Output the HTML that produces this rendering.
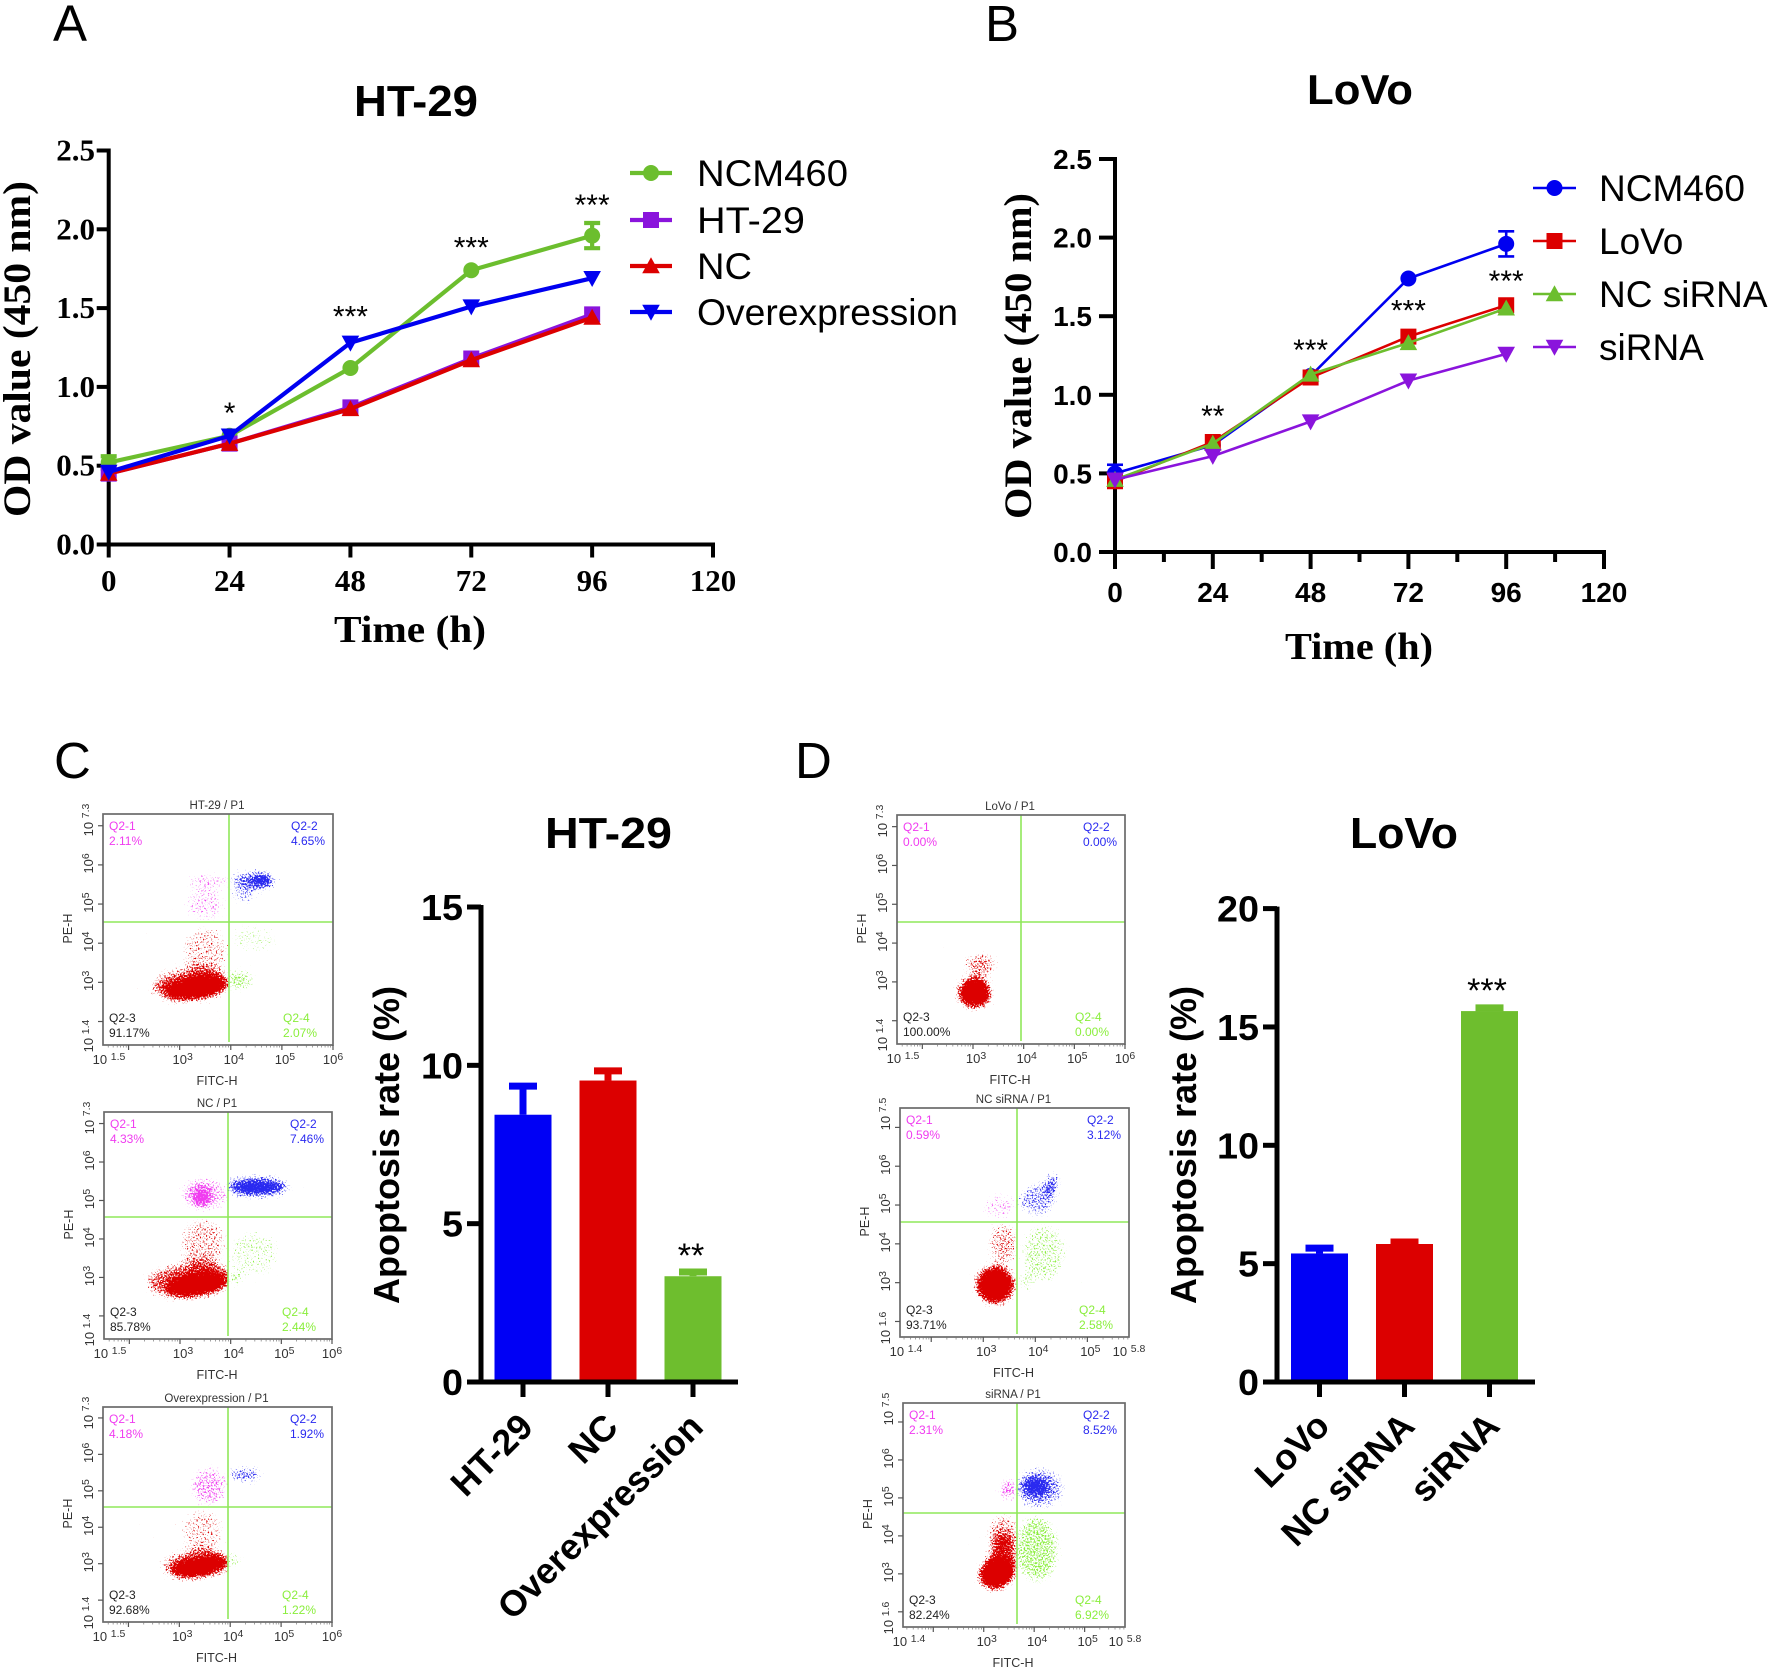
<!DOCTYPE html>
<html lang="en">
<head>
<meta charset="utf-8">
<title>Cell proliferation and apoptosis panels</title>
<style>
html,body{margin:0;padding:0;background:#fff;}
svg{display:block;}
text{font-family:"Liberation Sans",sans-serif;}
</style>
</head>
<body>
<svg id="figure" xmlns="http://www.w3.org/2000/svg" width="1772" height="1669" viewBox="0 0 1772 1669">
<defs id="defs"></defs>
<rect x="0" y="0" width="1772" height="1669" fill="#fff"/>
</svg>
<script>
/* ---------- Panel A data ---------- */
const aHours = [0, 24, 48, 72, 96];
const aNCM460 = [0.52, 0.69, 1.12, 1.74, 1.96];
const aNCM460Err = [0.04, 0.01, 0.01, 0.01, 0.08];
const aHT29 = [0.45, 0.64, 0.87, 1.18, 1.46];
const aNC = [0.45, 0.64, 0.86, 1.17, 1.44];
const aOverexpression = [0.46, 0.69, 1.28, 1.51, 1.69];
const aSigHours = [24, 48, 72, 96];
const aSigLabels = ['*', '***', '***', '***'];
const aSigValues = [0.88, 1.49, 1.93, 2.20];
/* ---------- Panel B data ---------- */
const bHours = [0, 24, 48, 72, 96];
const bNCM460 = [0.50, 0.68, 1.12, 1.74, 1.96];
const bNCM460Err = [0.055, 0.01, 0.01, 0.01, 0.08];
const bLoVo = [0.45, 0.70, 1.11, 1.37, 1.57];
const bNCsiRNA = [0.46, 0.69, 1.13, 1.33, 1.55];
const bsiRNA = [0.46, 0.61, 0.83, 1.09, 1.26];
const bSigHours = [24, 48, 72, 96];
const bSigLabels = ['**', '***', '***', '***'];
const bSigValues = [0.91, 1.33, 1.58, 1.77];
/* ---------- shared line chart ticks ---------- */
const lineXTicks = [0, 24, 48, 72, 96, 120];
const lineYTicks = [0, 0.5, 1, 1.5, 2, 2.5];
const lineYLabels = ['0.0', '0.5', '1.0', '1.5', '2.0', '2.5'];
/* ---------- Bar data ---------- */
const cCategories = ['HT-29', 'NC', 'Overexpression'];
const cValues = [8.44, 9.52, 3.34];
const cErrors = [1.0, 0.4, 0.23];
const cYTicks = [0, 5, 10, 15];
const dCategories = ['LoVo', 'NC siRNA', 'siRNA'];
const dValues = [5.43, 5.83, 15.67];
const dErrors = [0.35, 0.21, 0.26];
const dYTicks = [0, 5, 10, 15, 20];
/* ---------- Flow cytometry: quadrant percentages [Q2-1, Q2-2, Q2-3, Q2-4] ---------- */
const flowC1Pct = ['2.11%', '4.65%', '91.17%', '2.07%'];
const flowC2Pct = ['4.33%', '7.46%', '85.78%', '2.44%'];
const flowC3Pct = ['4.18%', '1.92%', '92.68%', '1.22%'];
const flowD1Pct = ['0.00%', '0.00%', '100.00%', '0.00%'];
const flowD2Pct = ['0.59%', '3.12%', '93.71%', '2.58%'];
const flowD3Pct = ['2.31%', '8.52%', '82.24%', '6.92%'];
/* Flow populations: [population, log10 FITC, log10 PE, spread x, spread y, tilt, density] */
const flowC1Clouds = [
 ['red',3.33,2.85,.62,.24,-8,.95],['red',3.2,2.95,.8,.42,-5,.48],['red',3.5,3.8,.46,.62,0,.31],
 ['magenta',3.55,5.6,.5,.15,0,.4],['magenta',3.5,5.0,.42,.42,0,.3],
 ['blue',4.43,5.6,.46,.22,0,.5],['blue',4.63,5.62,.2,.14,0,.72],['blue',4.25,5.2,.3,.22,0,.3],
 ['green',4.17,3.06,.3,.27,0,.42],['green',4.45,4.1,.5,.35,0,.26]];
const flowC2Clouds = [
 ['red',3.33,2.81,.59,.26,-10,.95],['red',3.2,2.94,.9,.47,-5,.48],['red',3.45,3.89,.46,.65,0,.32],
 ['magenta',3.43,5.1,.17,.26,0,.62],['magenta',3.5,5.18,.52,.45,0,.34],
 ['blue',4.52,5.35,.55,.17,0,.72],['blue',4.52,5.35,.7,.3,0,.34],
 ['green',4.45,3.63,.52,.6,0,.28],['green',4.09,2.98,.14,.2,0,.46]];
const flowC3Clouds = [
 ['red',3.4,2.91,.56,.23,-10,.95],['red',3.34,3.0,.72,.4,-5,.44],['red',3.45,3.92,.42,.6,0,.3],
 ['magenta',3.58,5.12,.38,.55,0,.38],
 ['blue',4.29,5.44,.36,.18,0,.52],
 ['green',4.06,3.1,.16,.24,0,.42]];
const flowD1Clouds = [
 ['red',3.03,2.72,.28,.35,0,.95],['red',3.03,2.72,.36,.42,0,.42],['red',3.15,3.45,.33,.3,0,.4]];
const flowD2Clouds = [
 ['red',3.23,2.94,.29,.43,0,.95],['red',3.23,2.94,.42,.5,0,.5],['red',3.39,4.01,.3,.55,0,.36],
 ['magenta',3.32,4.96,.33,.35,0,.3],
 ['blue',4.03,5.13,.38,.42,0,.38],['blue',4.32,5.56,.13,.3,0,.56],
 ['green',4.16,3.75,.45,.75,0,.33],['green',3.8,3.0,.15,.2,0,.4]];
const flowD3Clouds = [
 ['red',3.26,3.02,.36,.4,-30,.95],['red',3.39,3.46,.3,.6,0,.48],['red',3.39,4.08,.32,.5,0,.36],
 ['magenta',3.49,5.22,.2,.3,0,.46],
 ['blue',4.1,5.25,.5,.55,0,.4],['blue',4.03,5.3,.22,.17,0,.8],
 ['green',4.05,3.65,.45,.9,0,.41]];
/* Flow axis ticks: major decades and printed exponents */
const flowXExpA = ['1.5', '3', '4', '5', '6'];
const flowYExpA = ['1.4', '3', '4', '5', '6', '7.3'];
const flowXExpB = ['1.4', '3', '4', '5', '5.8'];
const flowYExpB = ['1.6', '3', '4', '5', '6', '7.5'];

/* ---------- helpers ---------- */
const NS = 'http://www.w3.org/2000/svg';
const root = document.getElementById('figure');
const defs = document.getElementById('defs');
function mk(tag, attrs, parent, name, interact) {
  const el = document.createElementNS(NS, tag);
  for (const k in attrs) el.setAttribute(k, attrs[k]);
  
  
  (parent || root).appendChild(el);
  return el;
}
function group(parent, name) { return mk('g', {}, parent, name, false); }
function line(p, x1, y1, x2, y2, stroke, w, name) {
  return mk('line', {x1, y1, x2, y2, stroke, 'stroke-width': w}, p, name, false);
}
function txt(p, name, s, x, y, o) {
  o = o || {};
  const a = {x, y, 'font-size': o.size || 12, fill: o.fill || '#000', 'text-anchor': o.anchor || 'start'};
  if (o.weight) a['font-weight'] = o.weight;
  if (o.family) a['style'] = 'font-family:' + o.family;
  if (o.len) { a.textLength = o.len; a.lengthAdjust = 'spacingAndGlyphs'; }
  if (o.rot) a.transform = 'rotate(' + o.rot + ' ' + x + ' ' + y + ')';
  const t = mk('text', a, p, name, false);
  t.textContent = s;
  return t;
}
const SERIF = '"Liberation Serif",serif';
function marker(p, kind, x, y, r, color, name) {
  if (kind === 'circle') return mk('circle', {cx: x, cy: y, r: r, fill: color}, p, name, false);
  let pts;
  if (kind === 'square') pts = [[x-r,y-r],[x+r,y-r],[x+r,y+r],[x-r,y+r]];
  if (kind === 'up') pts = [[x,y-r*1.1],[x+r*1.1,y+r*.9],[x-r*1.1,y+r*.9]];
  if (kind === 'down') pts = [[x,y+r*1.1],[x+r*1.1,y-r*.9],[x-r*1.1,y-r*.9]];
  return mk('polygon', {points: pts.map(q => q.join(',')).join(' '), fill: color}, p, name, false);
}

/* ---------- line chart ---------- */
function lineChart(c) {
  const g = group(root, c.id + '-chart');
  const sx = v => c.x0 + (v / 120) * (c.x1 - c.x0);
  const sy = v => c.y0 + (v / 2.5) * (c.y1 - c.y0);
  const axes = group(g, c.id + '-axes');
  line(axes, sx(0), c.y0 + 2, sx(0), c.y1 - 2, '#000', 4, 'y-axis-line');
  line(axes, sx(0) - 2, c.y0, sx(120) + 2, c.y0, '#000', 4, 'x-axis-line');
  lineYTicks.forEach((v, i) => {
    line(axes, c.x0 - c.tickY, sy(v), c.x0, sy(v), '#000', 4, 'y-tick');
    txt(axes, 'y-tick-label', lineYLabels[i], c.yLabelX, sy(v) + c.yLabelDy, {size: c.tickSize, weight: 700, family: c.tickFamily, anchor: 'end'});
  });
  lineXTicks.forEach(v => {
    line(axes, sx(v), c.y0, sx(v), c.y0 + c.tickX, '#000', 4, 'x-tick');
    txt(axes, 'x-tick-label', String(v), sx(v), c.xLabelY, {size: c.tickSize, weight: 700, family: c.tickFamily, anchor: 'middle'});
  });
  if (c.minor) lineXTicks.slice(0, -1).forEach(v => {
    line(axes, sx(v + 12), c.y0, sx(v + 12), c.y0 + 10, '#000', 4, 'x-minor-tick');
  });
  c.series.forEach(s => {
    const sg = group(g, 'series-' + s.name.toLowerCase().replace(/\s+/g, '-'));
    const pts = c.hours.map((h, i) => sx(h) + ',' + sy(s.values[i])).join(' ');
    mk('polyline', {points: pts, fill: 'none', stroke: s.color, 'stroke-width': c.lw, 'stroke-linejoin': 'round'}, sg, 'series-line', false);
    c.hours.forEach((h, i) => {
      if (s.err && s.err[i] > 0.02) {
        const t = sy(s.values[i] + s.err[i]), b = sy(s.values[i] - s.err[i]);
        line(sg, sx(h), t, sx(h), b, s.color, c.lw, 'error-bar');
        line(sg, sx(h) - 8, t, sx(h) + 8, t, s.color, c.lw, 'error-cap');
        line(sg, sx(h) - 8, b, sx(h) + 8, b, s.color, c.lw, 'error-cap');
      }
      marker(sg, s.kind, sx(h), sy(s.values[i]), c.mr, s.color, 'data-point');
    });
  });
  c.sigHours.forEach((h, i) => {
    txt(g, 'significance-label', c.sigLabels[i], sx(h), sy(c.sigValues[i]) + 17, {size: 30, anchor: 'middle'});
  });
  txt(g, 'chart-title', c.title, c.titleX, c.titleY, {size: c.titleSize, weight: 700, len: c.titleLen});
  txt(g, 'x-axis-title', 'Time (h)', c.xtX, c.xtY, {size: 38, weight: 700, family: SERIF, len: c.xtLen});
  txt(g, 'y-axis-title', 'OD value (450 nm)', c.ytX, c.ytY, {size: 39, weight: 700, family: SERIF, rot: -90, len: c.ytLen});
  const leg = group(g, c.id + '-legend');
  c.series.forEach((s, i) => {
    const e = group(leg, 'legend-entry');
    const y = c.legY[i];
    line(e, c.legX0, y, c.legX1, y, s.color, c.lw, 'legend-line');
    marker(e, s.kind, (c.legX0 + c.legX1) / 2, y, c.mr, s.color, 'legend-marker');
    txt(e, 'legend-label', s.name, c.legTX, y + 13, {size: 37, len: c.legLen ? c.legLen[i] : 0});
  });
}

lineChart({
  id: 'panel-a', hours: aHours, x0: 108.7, x1: 713, y0: 544.5, y1: 150.5, tickY: 12, tickX: 13, minor: false, lw: 4.2, mr: 8,
  yLabelX: 95, yLabelDy: 10, xLabelY: 591, tickSize: 31, tickFamily: SERIF,
  sigHours: aSigHours, sigLabels: aSigLabels, sigValues: aSigValues,
  title: 'HT-29', titleX: 354, titleY: 116, titleSize: 44, titleLen: 124,
  xtX: 334, xtY: 642, xtLen: 152, ytX: 30, ytY: 517, ytLen: 336,
  legX0: 630, legX1: 672, legTX: 697, legY: [173, 220, 266, 312], legLen: [151, 108, 55, 261],
  series: [
    {name: 'NCM460', kind: 'circle', color: '#6cbe2e', values: aNCM460, err: aNCM460Err},
    {name: 'HT-29', kind: 'square', color: '#8a14dc', values: aHT29},
    {name: 'NC', kind: 'up', color: '#dc0000', values: aNC},
    {name: 'Overexpression', kind: 'down', color: '#0000f0', values: aOverexpression}
  ]
});
lineChart({
  id: 'panel-b', hours: bHours, x0: 1115, x1: 1604, y0: 552, y1: 159, tickY: 16, tickX: 17, minor: true, lw: 2.6, mr: 8,
  yLabelX: 1092, yLabelDy: 10, xLabelY: 602, tickSize: 28, tickFamily: '"Liberation Sans",sans-serif',
  sigHours: bSigHours, sigLabels: bSigLabels, sigValues: bSigValues,
  title: 'LoVo', titleX: 1307, titleY: 104, titleSize: 42, titleLen: 106,
  xtX: 1285, xtY: 659, xtLen: 148, ytX: 1031, ytY: 519, ytLen: 326,
  legX0: 1533, legX1: 1576, legTX: 1599, legY: [188, 241, 294, 347],
  series: [
    {name: 'NCM460', kind: 'circle', color: '#0000f0', values: bNCM460, err: bNCM460Err},
    {name: 'LoVo', kind: 'square', color: '#dc0000', values: bLoVo},
    {name: 'NC siRNA', kind: 'up', color: '#6cbe2e', values: bNCsiRNA},
    {name: 'siRNA', kind: 'down', color: '#8a14dc', values: bsiRNA}
  ]
});

/* ---------- bar chart ---------- */
function barChart(c) {
  const g = group(root, c.id + '-chart');
  const sy = v => c.y0 + (v / c.max) * (c.y1 - c.y0);
  c.values.forEach((v, i) => {
    const cx = c.cx0 + i * c.step;
    const b = group(g, 'bar-' + c.categories[i].toLowerCase().replace(/\s+/g, '-'));
    line(b, cx, sy(v), cx, sy(v + c.errors[i]) + 3, c.colors[i], 7, 'error-bar');
    line(b, cx - 14, sy(v + c.errors[i]) + 3, cx + 14, sy(v + c.errors[i]) + 3, c.colors[i], 7, 'error-cap');
    mk('rect', {x: cx - 28.5, y: sy(v), width: 57, height: c.y0 - sy(v), fill: c.colors[i]}, b, 'bar', false);
  });
  const axes = group(g, c.id + '-axes');
  line(axes, c.ax, c.y0 + 2, c.ax, c.y1 - 2, '#000', 5, 'y-axis-line');
  line(axes, c.ax - 14, c.y0, c.xEnd, c.y0, '#000', 5, 'x-axis-line');
  c.ticks.forEach(v => {
    line(axes, c.ax - 14, sy(v), c.ax, sy(v), '#000', 5, 'y-tick');
    txt(axes, 'y-tick-label', String(v), c.ax - 18, sy(v) + 13, {size: 36, weight: 700, anchor: 'end', len: String(v).length * 21});
  });
  c.categories.forEach((n, i) => {
    const cx = c.cx0 + i * c.step;
    line(axes, cx, c.y0, cx, c.y0 + 15, '#000', 5, 'x-tick');
    txt(axes, 'x-tick-label', n, cx + 12, c.y0 + c.labelDy, {size: 36, weight: 700, anchor: 'end', rot: -45});
  });
  txt(g, 'significance-label', c.sig, c.sigX, c.sigY, {size: 34, anchor: 'middle'});
  txt(g, 'chart-title', c.title, c.titleX, 848, {size: 44, weight: 700, len: c.titleLen});
  txt(g, 'y-axis-title', 'Apoptosis rate (%)', c.ytX, 1304, {size: 36, weight: 700, rot: -90, len: 318});
}
barChart({
  id: 'panel-c', categories: cCategories, values: cValues, errors: cErrors, ticks: cYTicks, max: 15,
  colors: ['#0000f5', '#dc0000', '#6ebe2e'], y0: 1382, y1: 907, ax: 481, xEnd: 738, cx0: 523, step: 85, labelDy: 47,
  sig: '**', sigX: 691, sigY: 1267, title: 'HT-29', titleX: 545, titleLen: 127, ytX: 399
});
barChart({
  id: 'panel-d', categories: dCategories, values: dValues, errors: dErrors, ticks: dYTicks, max: 20,
  colors: ['#0000f5', '#dc0000', '#6ebe2e'], y0: 1382, y1: 908.6, ax: 1277, xEnd: 1535, cx0: 1319.5, step: 85, labelDy: 46,
  sig: '***', sigX: 1487, sigY: 1002, title: 'LoVo', titleX: 1350, titleLen: 108, ytX: 1196
});

/* ---------- flow cytometry ---------- */
const popColors = {red: '#dc0000', magenta: '#f03cf0', blue: '#2a2af0', green: '#8aee3c'};
Object.keys(popColors).forEach(k => {
  const f = document.createElementNS(NS, 'filter');
  f.setAttribute('id', 'speckle-' + k);
  f.setAttribute('x', '-30%'); f.setAttribute('y', '-30%');
  f.setAttribute('width', '160%'); f.setAttribute('height', '160%');
  f.setAttribute('color-interpolation-filters', 'sRGB');
  f.innerHTML =
    '<feTurbulence type="fractalNoise" baseFrequency="0.62" numOctaves="2" seed="7" result="n"/>' +
    '<feColorMatrix in="n" type="matrix" values="0 0 0 0 0 0 0 0 0 0 0 0 0 0 0 1 0 0 0 0" result="na"/>' +
    '<feGaussianBlur in="SourceAlpha" stdDeviation="5" result="b"/>' +
    '<feComposite in="b" in2="na" operator="arithmetic" k1="0" k2="1" k3="1" k4="-0.88" result="m"/>' +
    '<feComponentTransfer in="m" result="t"><feFuncA type="linear" slope="7" intercept="0"/></feComponentTransfer>' +
    '<feFlood flood-color="' + popColors[k] + '" result="fl"/>' +
    '<feComposite in="fl" in2="t" operator="in"/>';
  defs.appendChild(f);
});
let clipId = 0;
function flowPlot(c) {
  const g = group(root, c.id);
  const sx = v => c.L + (v - c.xr[0]) / (c.xr[1] - c.xr[0]) * (c.R - c.L);
  const sy = v => c.B - (v - c.yr[0]) / (c.yr[1] - c.yr[0]) * (c.B - c.T);
  const quad = {
    red: [c.L, c.H, c.V - c.L, c.B - c.H], magenta: [c.L, c.T, c.V - c.L, c.H - c.T],
    blue: [c.V, c.T, c.R - c.V, c.H - c.T], green: [c.V, c.H, c.R - c.V, c.B - c.H]
  };
  Object.keys(quad).forEach(pop => {
    const items = c.clouds.filter(d => d[0] === pop);
    if (!items.length) return;
    const id = 'clip' + (clipId++);
    const cp = document.createElementNS(NS, 'clipPath');
    cp.setAttribute('id', id);
    const r = document.createElementNS(NS, 'rect');
    r.setAttribute('x', quad[pop][0]); r.setAttribute('y', quad[pop][1]);
    r.setAttribute('width', quad[pop][2]); r.setAttribute('height', quad[pop][3]);
    cp.appendChild(r); defs.appendChild(cp);
    const outer = mk('g', {'clip-path': 'url(#' + id + ')'}, g, 'population-' + pop, false);
    const inner = mk('g', {filter: 'url(#speckle-' + pop + ')'}, outer, 'population-dots', false);
    items.forEach(d => {
      const ex = sx(d[1]), ey = sy(d[2]);
      mk('ellipse', {cx: ex, cy: ey, rx: Math.abs(sx(d[1] + d[3]) - ex), ry: Math.abs(sy(d[2] + d[4]) - ey),
        fill: '#000', 'fill-opacity': d[6], transform: 'rotate(' + d[5] + ' ' + ex + ' ' + ey + ')'}, inner, 'population-cloud', false);
    });
  });
  line(g, c.L, c.H, c.R, c.H, '#8fe85a', 1.6, 'gate-horizontal');
  line(g, c.V, c.T, c.V, c.B - 3, '#8fe85a', 1.6, 'gate-vertical');
  mk('rect', {x: c.L, y: c.T, width: c.R - c.L, height: c.B - c.T, fill: 'none', stroke: '#6a6a6a', 'stroke-width': 1.7}, g, 'plot-frame', false);
  for (let d = Math.floor(c.xr[0]); d <= Math.ceil(c.xr[1]); d++) {
    if (d >= c.xr[0] && d <= c.xr[1]) line(g, sx(d), c.B, sx(d), c.B + 5, '#555', 1.2, 'x-tick');
    for (let m = 2; m < 10; m++) {
      const v = d + Math.log10(m);
      if (v > c.xr[0] && v < c.xr[1]) line(g, sx(v), c.B, sx(v), c.B + 2.5, '#777', .7, 'x-minor-tick');
    }
  }
  for (let d = Math.ceil(c.yr[0]); d <= Math.floor(c.yr[1]); d++) {
    line(g, c.L - 5, sy(d), c.L, sy(d), '#555', 1.2, 'y-tick');
  }
  function power(name, exp, x, y, rot) {
    const a = {x, y, 'font-size': 13, fill: '#333', 'text-anchor': 'middle'};
    if (rot) a.transform = 'rotate(-90 ' + x + ' ' + y + ')';
    const t = mk('text', a, g, name, false);
    const s1 = document.createElementNS(NS, 'tspan');
    s1.textContent = exp.indexOf('.') >= 0 ? '10 ' : '10';
    const s2 = document.createElementNS(NS, 'tspan');
    s2.setAttribute('dy', '-4'); s2.setAttribute('font-size', '10.5');
    s2.textContent = exp;
    t.appendChild(s1); t.appendChild(s2);
  }
  c.xExp.forEach((e, i) => power('x-tick-label', e, sx(parseFloat(e)) + (i === 0 ? 6 : i === c.xExp.length - 1 ? 0 : 3), c.B + 19, false));
  c.yExp.forEach((e, i) => power('y-tick-label', e, c.L - 10, sy(parseFloat(e)) + (i === 0 ? -9 : i === c.yExp.length - 1 ? 6 : -1.5), true));
  txt(g, 'plot-title', c.title, (c.L + c.R) / 2 - 1, c.T - 5, {size: 11.5, anchor: 'middle', fill: '#333'});
  txt(g, 'x-axis-title', 'FITC-H', (c.L + c.R) / 2 - 1, c.B + 40, {size: 12.5, anchor: 'middle', fill: '#333'});
  txt(g, 'y-axis-title', 'PE-H', c.L - 31, (c.T + c.B) / 2 + 14, {size: 12.5, fill: '#333', rot: -90});
  const names = ['Q2-1', 'Q2-2', 'Q2-3', 'Q2-4'];
  const cols = ['#f03cf0', '#2a2af0', '#222', '#8aee3c'];
  const lx = [c.L + 6, c.R - 42, c.L + 6, c.R - 50];
  const ly = [c.T + 16, c.T + 16, c.B - 23, c.B - 23];
  names.forEach((n, i) => {
    txt(g, 'quadrant-name', n, lx[i], ly[i], {size: 12, fill: cols[i]});
    txt(g, 'quadrant-percent', c.pct[i], lx[i], ly[i] + 15, {size: 12, fill: cols[i]});
  });
}
flowPlot({id: 'flow-ht29', title: 'HT-29 / P1', L: 103, R: 333, T: 814, B: 1045, V: 229, H: 922, xr: [1.5, 6], yr: [1.4, 7.3], xExp: flowXExpA, yExp: flowYExpA, pct: flowC1Pct, clouds: flowC1Clouds});
flowPlot({id: 'flow-nc', title: 'NC / P1', L: 104, R: 332, T: 1112, B: 1339, V: 228, H: 1217, xr: [1.5, 6], yr: [1.4, 7.3], xExp: flowXExpA, yExp: flowYExpA, pct: flowC2Pct, clouds: flowC2Clouds});
flowPlot({id: 'flow-overexpression', title: 'Overexpression / P1', L: 103, R: 332, T: 1407, B: 1622, V: 228, H: 1507, xr: [1.5, 6], yr: [1.4, 7.3], xExp: flowXExpA, yExp: flowYExpA, pct: flowC3Pct, clouds: flowC3Clouds});
flowPlot({id: 'flow-lovo', title: 'LoVo / P1', L: 897, R: 1125, T: 815, B: 1044, V: 1021, H: 922, xr: [1.5, 6], yr: [1.4, 7.3], xExp: flowXExpA, yExp: flowYExpA, pct: flowD1Pct, clouds: flowD1Clouds});
flowPlot({id: 'flow-nc-sirna', title: 'NC siRNA / P1', L: 900, R: 1129, T: 1108, B: 1337, V: 1017, H: 1222, xr: [1.4, 5.8], yr: [1.6, 7.5], xExp: flowXExpB, yExp: flowYExpB, pct: flowD2Pct, clouds: flowD2Clouds});
flowPlot({id: 'flow-sirna', title: 'siRNA / P1', L: 903, R: 1125, T: 1403, B: 1627, V: 1017, H: 1513, xr: [1.4, 5.8], yr: [1.6, 7.5], xExp: flowXExpB, yExp: flowYExpB, pct: flowD3Pct, clouds: flowD3Clouds});

/* ---------- panel letters ---------- */
txt(root, 'panel-letter-a', 'A', 53, 41, {size: 51});
txt(root, 'panel-letter-b', 'B', 985, 41, {size: 51});
txt(root, 'panel-letter-c', 'C', 54, 778, {size: 51});
txt(root, 'panel-letter-d', 'D', 795, 778, {size: 51});
</script>
</body>
</html>
